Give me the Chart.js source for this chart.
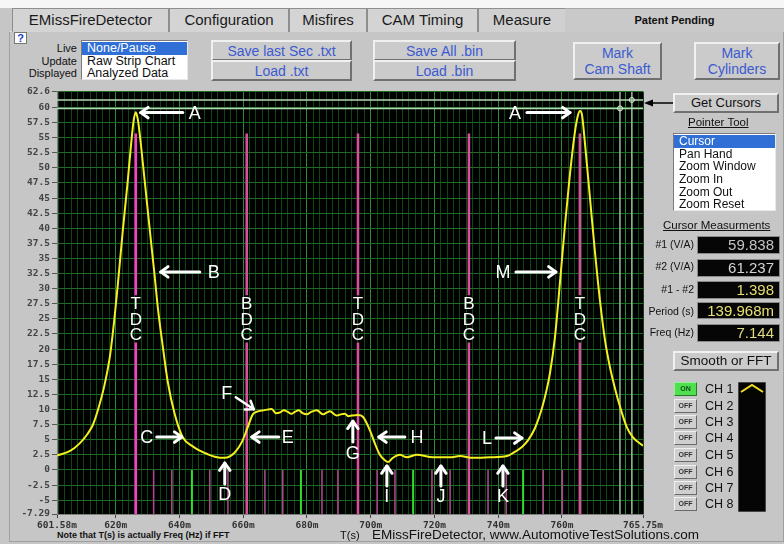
<!DOCTYPE html>
<html><head><meta charset="utf-8">
<script src="https://cdn.jsdelivr.net/npm/chart.js@4.4.1/dist/chart.umd.min.js"></script>
<style>
*{box-sizing:border-box}
html,body{margin:0;padding:0}
body{width:784px;height:544px;background:#c6c6c6;font-family:"Liberation Sans",Arial,sans-serif;position:relative;overflow:hidden}
.a{position:absolute}
#topstrip{left:0;top:0;width:784px;height:8px;background:#f6f6f6}
.tab{position:absolute;top:8px;height:24px;background:#d4d4d4;border:1px solid #8e8e8e;border-bottom:none;font-size:15px;line-height:22px;text-align:center;color:#1a1a1a}
#patent{left:565px;top:8px;width:219px;height:24px;background:#c9c9c9;border-top:1px solid #a8a8a8;font-size:11px;font-weight:bold;line-height:22px;text-align:center;color:#111}
#panel{left:9px;top:31px;width:775px;height:511px;border:1px solid #a0a0a0;border-top-color:#e6e6e6}
.btn{position:absolute;background:#cbcbcb;border:2px solid;border-color:#f0f0f0 #707070 #707070 #f0f0f0;color:#3c5ad0;font-size:14px;text-align:center;display:flex;align-items:center;justify-content:center;line-height:16px}
.list{position:absolute;background:#fff;border:1px solid;border-color:#7a7a7a #e8e8e8 #e8e8e8 #7a7a7a;font-size:12.5px;padding-top:1px}
.list div{height:12.7px;line-height:12.7px;padding-left:5px;color:#111;white-space:nowrap}
.list div.sel{background:#2f6fd6;color:#fff}
.lbl{position:absolute;font-size:11px;text-align:right;color:#111;white-space:nowrap}
.val{position:absolute;left:697px;width:83px;background:#060606;border:1px solid #8a8a8a;font-size:15px;text-align:right;padding-right:5px;color:#d0d0d0;white-space:nowrap}
.ul{position:absolute;font-size:11.5px;text-decoration:underline;color:#111;white-space:nowrap}
.ch{position:absolute;left:674px;width:23px;height:14px;font-size:7px;font-weight:bold;text-align:center;line-height:11px;border:1.5px solid;border-color:#f0f0f0 #6a6a6a #6a6a6a #f0f0f0;background:#cfcfcf;color:#333}
.ch.on{background:#4fe04f;color:#145014;border-color:#9af09a #2a7a2a #2a7a2a #9af09a}
.chl{position:absolute;left:705px;font-size:12.5px;color:#111}
</style></head>
<body>
<div id="topstrip" class="a"></div>
<div id="panel" class="a"></div>
<div class="tab" style="left:12px;width:157px">EMissFireDetector</div>
<div class="tab" style="left:169px;width:120px">Configuration</div>
<div class="tab" style="left:289px;width:78px">Misfires</div>
<div class="tab" style="left:367px;width:111px">CAM Timing</div>
<div class="tab" style="left:478px;width:88px;background:#d0d0d0">Measure</div>
<div id="patent" class="a">Patent Pending</div>

<div class="a" style="left:14px;top:32px;width:13px;height:12px;background:#fff;border:1px solid #777;color:#2040c0;font-weight:bold;font-size:11px;line-height:10px;text-align:center">?</div>
<div class="lbl" style="left:20px;width:57px;top:42px">Live</div>
<div class="lbl" style="left:20px;width:57px;top:55px">Update</div>
<div class="lbl" style="left:20px;width:57px;top:67px">Displayed</div>
<div class="list" style="left:81px;top:40px;width:107px;height:40px">
 <div class="sel">None/Pause</div><div>Raw Strip Chart</div><div>Analyzed Data</div>
</div>
<div class="btn" style="left:211px;top:40px;width:141px;height:21px">Save last Sec .txt</div>
<div class="btn" style="left:211px;top:60px;width:141px;height:21px">Load .txt</div>
<div class="btn" style="left:373px;top:40px;width:143px;height:21px">Save All .bin</div>
<div class="btn" style="left:373px;top:60px;width:143px;height:21px">Load .bin</div>
<div class="btn" style="left:573px;top:42px;width:89px;height:38px">Mark<br>Cam Shaft</div>
<div class="btn" style="left:694px;top:42px;width:86px;height:38px">Mark<br>Cylinders</div>

<canvas id="c" class="a" width="672" height="446" style="left:0;top:84px;width:672px;height:446px"></canvas>

<svg class="a" style="left:640px;top:96px" width="36" height="14">
 <line x1="10" y1="7" x2="33" y2="7" stroke="#000" stroke-width="1.5"/>
 <polygon points="4,7 13,3.5 13,10.5" fill="#000"/>
</svg>
<div class="btn" style="left:673px;top:93px;width:106px;height:20px;color:#111;font-size:13px">Get Cursors</div>
<div class="ul" style="left:688px;top:116px">Pointer Tool</div>
<div class="list" style="left:673px;top:133px;width:103px;height:78px;font-size:12px">
 <div class="sel">Cursor</div><div>Pan Hand</div><div>Zoom Window</div><div>Zoom In</div><div>Zoom Out</div><div>Zoom Reset</div>
</div>
<div class="ul" style="left:663px;top:219px">Cursor Measurments</div>
<div class="lbl" style="left:640px;width:54px;top:238px;font-size:10.5px">#1 (V/A)</div>
<div class="val" style="top:236px;height:18px;line-height:16px;color:#c4c4c4">59.838</div>
<div class="lbl" style="left:640px;width:54px;top:260px;font-size:10.5px">#2 (V/A)</div>
<div class="val" style="top:259px;height:18px;line-height:16px;color:#d4d4d4">61.237</div>
<div class="lbl" style="left:640px;width:54px;top:283px;font-size:10.5px">#1 - #2</div>
<div class="val" style="top:281px;height:18px;line-height:16px;color:#e6de70">1.398</div>
<div class="lbl" style="left:630px;width:64px;top:305px;font-size:10.5px">Period (s)</div>
<div class="val" style="top:302px;height:17px;line-height:15px;color:#e8e070">139.968m</div>
<div class="lbl" style="left:630px;width:64px;top:326px;font-size:10.5px">Freq (Hz)</div>
<div class="val" style="top:324px;height:18px;line-height:16px;color:#e0dc80">7.144</div>
<div class="btn" style="left:673px;top:351px;width:106px;height:20px;color:#111;font-size:13.5px">Smooth or FFT</div>

<div class="ch on" style="top:382px">ON</div><div class="chl" style="top:382px">CH 1</div>
<div class="ch" style="top:399px">OFF</div><div class="chl" style="top:399px">CH 2</div>
<div class="ch" style="top:415px">OFF</div><div class="chl" style="top:415px">CH 3</div>
<div class="ch" style="top:431px">OFF</div><div class="chl" style="top:431px">CH 4</div>
<div class="ch" style="top:448px">OFF</div><div class="chl" style="top:448px">CH 5</div>
<div class="ch" style="top:465px">OFF</div><div class="chl" style="top:465px">CH 6</div>
<div class="ch" style="top:481px">OFF</div><div class="chl" style="top:481px">CH 7</div>
<div class="ch" style="top:497px">OFF</div><div class="chl" style="top:497px">CH 8</div>
<svg class="a" style="left:738px;top:382px" width="28" height="130">
 <rect x="0" y="0" width="28" height="130" fill="#050505" stroke="#888" stroke-width="1"/>
 <polyline points="3,10 14,3 25,10" fill="none" stroke="#f0e020" stroke-width="2"/>
</svg>

<div class="a" style="left:57px;top:530px;font-size:9px;font-weight:bold;color:#111;white-space:nowrap">Note that T(s) is actually Freq (Hz) if FFT</div>
<div class="a" style="left:340px;top:529px;font-size:11px;color:#111">T(s)</div>
<div class="a" style="left:372px;top:527px;font-size:13.5px;color:#111;white-space:nowrap">EMissFireDetector, www.AutomotiveTestSolutions.com</div>

<script>
// ---- data ----
const xTickValues = [601.58, 620, 640, 660, 680, 700, 720, 740, 760, 785.41];
const xTickLabels = ['601.58m','620m','640m','660m','680m','700m','720m','740m','760m','765.75m'];
const yTickValues = [-7.29,-5,-2.5,0,2.5,5,7.5,10,12.5,15,17.5,20,22.5,25,27.5,30,32.5,35,37.5,40,42.5,45,47.5,50,52.5,55,57.5,60,62.6];

const timeMs = [601.58,605.56,608.70,611.21,612.78,614.35,616.55,618.12,619.06,620.63,622.20,623.77,625.02,625.65,626.28,626.91,627.53,629.10,630.67,632.24,633.18,634.75,636.32,638.52,641.03,644.17,646.37,648.88,651.07,654.21,657.35,659.55,661.43,663.00,664.57,666.77,668.96,670.20,671.47,672.70,673.99,675.10,676.18,677.40,678.60,679.95,681.30,683.09,684.97,686.20,687.17,689.37,690.60,691.88,693.00,694.07,695.96,697.53,699.72,701.29,702.86,704.43,705.37,706.94,709.14,711.33,714.48,719.50,724.83,727.97,732.05,737.39,742.72,744.61,747.43,749.32,751.51,753.71,755.28,756.22,757.79,759.36,760.93,762.50,764.07,765.01,765.64,766.26,767.21,768.78,770.35,771.92,773.49,775.05,776.62,778.19,780.39,782.27,785.41];
const signal = [2.4,3.1,4.4,6.0,7.4,9.8,14.2,18.6,22.5,30.5,39.5,47.8,55.0,57.9,59.2,58.1,55.6,47.8,39.8,32.0,27.0,20.5,14.6,9.2,5.4,3.9,3.2,2.6,2.2,2.0,2.9,4.6,7.1,9.2,9.7,9.9,10.1,9.4,9.5,9.9,9.6,9.3,9.6,9.9,9.4,9.2,9.6,9.9,9.2,9.5,9.7,9.0,9.2,9.3,8.9,9.0,9.1,8.8,6.6,4.4,2.5,1.6,1.3,2.0,2.5,2.1,2.5,2.1,2.1,2.3,2.0,2.1,2.3,2.8,3.8,4.9,6.9,10.2,13.5,16.0,22.0,31.0,40.5,49.0,56.0,58.7,59.4,58.8,54.0,45.0,36.0,28.0,21.5,17.0,13.5,10.5,7.0,5.4,4.0];

const deadCenterMs = [626.3, 661.1, 696.0, 730.8, 765.6];
const deadCenterLabels = ['TDC','BDC','TDC','BDC','TDC'];
const cylinderMarkMs = [631.9,637.6,649.5,655.2,666.8,672.4,684.7,689.7,702.0,707.6,719.2,724.9,736.8,742.5,754.1,760.1];
const camMarkMs = [643.9,678.1,713.3,747.8];
const cursorMs = [778.2, 781.9];
const cursorValues = [59.838, 61.237];

const noteLetters = ['A','A','B','M','C','D','E','F','G','H','I','J','K','L'];

// ---- layout / drawing ----
const X_MIN = xTickValues[0], X_MAX = xTickValues[xTickValues.length-1];
const Y_MIN = yTickValues[0], Y_MAX = yTickValues[yTickValues.length-1];

// arrow geometry for each letter (data coords): letter centre, arrow tail, arrow tip
const noteGeom = [
 [[644.80,59.14],[641.03,59.14],[627.85,59.14]],
 [[745.23,59.14],[749.00,59.14],[762.50,59.14]],
 [[650.76,32.78],[646.37,32.78],[634.12,32.78]],
 [[741.47,32.78],[745.55,32.78],[758.10,32.78]],
 [[629.73,5.44],[632.87,5.44],[640.72,5.44]],
 [[654.21,-3.95],[654.21,-2.31],[654.21,1.15]],
 [[673.99,5.44],[671.16,5.44],[662.69,5.44]],
 [[654.84,12.69],[657.66,12.03],[663.31,10.05]],
 [[694.39,2.80],[694.39,4.61],[694.39,8.07]],
 [[714.48,5.44],[710.71,5.44],[702.55,5.44]],
 [[705.06,-4.28],[705.06,-2.64],[705.06,0.66]],
 [[722.01,-4.28],[722.01,-2.64],[722.01,0.66]],
 [[741.47,-4.28],[741.47,-2.64],[741.47,0.66]],
 [[736.45,5.27],[739.27,5.27],[747.43,5.27]]
];

const DC_TOP = 55.7, DC_GAP_TOP = 28.9, DC_GAP_BOTTOM = 21.1;

const segs = (xs, y0, y1) => xs.flatMap(x => [{x, y:y0},{x, y:y1},{x, y:null}]);

const datasets = [];
datasets.push({label:'CH1', data: timeMs.map((t,i)=>({x:t, y:signal[i]})), borderColor:'#f4f020', borderWidth:2,
  pointRadius:0, showLine:true, cubicInterpolationMode:'monotone', order:0});
deadCenterMs.forEach((t,i)=>{
  datasets.push({label:deadCenterLabels[i], data:[{x:t,y:DC_TOP},{x:t,y:DC_GAP_TOP},{x:t,y:null},{x:t,y:DC_GAP_BOTTOM},{x:t,y:Y_MIN}],
    borderColor: i===0 ? '#ff3ccc' : '#d8509e', borderWidth:2.5, pointRadius:0, showLine:true, order:3});
});
datasets.push({label:'cyl', data: segs(cylinderMarkMs, 0, Y_MIN), borderColor:'#a8488a', borderWidth:1.6, pointRadius:0, showLine:true, order:4});
datasets.push({label:'cam', data: segs(camMarkMs, 0, Y_MIN), borderColor:'#2ee02e', borderWidth:2, pointRadius:0, showLine:true, order:4});
cursorValues.forEach(v=>{
  datasets.push({label:'ch', data:[{x:X_MIN,y:v},{x:X_MAX,y:v}], borderColor:'#b4d8b4', borderWidth:1.5, pointRadius:0, showLine:true, order:2});
});
cursorMs.forEach(t=>{
  datasets.push({label:'cv', data:[{x:t,y:Y_MIN},{x:t,y:Y_MAX}], borderColor:'#b4d8b4', borderWidth:1.2, pointRadius:0, showLine:true, order:2});
});
datasets.push({label:'cm', data: cursorMs.map((t,i)=>({x:t, y:cursorValues[i]})), showLine:false, pointRadius:2.5,
  pointStyle:'circle', borderColor:'#dff0df', backgroundColor:'rgba(0,0,0,0)', borderWidth:1, order:1});

const bgPlugin = {id:'bg', beforeDraw(c){const {ctx, chartArea:a}=c; ctx.save(); ctx.fillStyle='#000'; ctx.fillRect(a.left,a.top,a.right-a.left,a.bottom-a.top); ctx.restore();}};

function arrow(ctx,a,b,w){
  ctx.lineWidth=w; ctx.beginPath(); ctx.moveTo(a[0],a[1]); ctx.lineTo(b[0],b[1]); ctx.stroke();
  const ang=Math.atan2(b[1]-a[1],b[0]-a[0]), L=9, s=0.62;
  ctx.beginPath();
  ctx.moveTo(b[0]-L*Math.cos(ang-s), b[1]-L*Math.sin(ang-s));
  ctx.lineTo(b[0],b[1]);
  ctx.lineTo(b[0]-L*Math.cos(ang+s), b[1]-L*Math.sin(ang+s));
  ctx.stroke();
}
const notesPlugin = {id:'notes', afterDatasetsDraw(chart){
  const {ctx, scales:{x,y}} = chart;
  const P = p => [x.getPixelForValue(p[0]), y.getPixelForValue(p[1])];
  ctx.save();
  ctx.fillStyle='#ffffff'; ctx.strokeStyle='#ffffff';
  ctx.textAlign='center'; ctx.textBaseline='middle';
  ctx.font='17px "Liberation Sans", Arial, sans-serif';
  deadCenterMs.forEach((t,i)=>{
    const px = x.getPixelForValue(t);
    deadCenterLabels[i].split('').forEach((ch,k)=>{
      ctx.fillText(ch, px, y.getPixelForValue(27.5 - 2.5*k)+1);
    });
  });
  ctx.font='18px "Liberation Sans", Arial, sans-serif';
  ctx.lineCap='round'; ctx.lineJoin='round';
  noteLetters.forEach((l,i)=>{
    const [c,tail,tip] = noteGeom[i];
    const pc = P(c);
    ctx.fillText(l, pc[0], pc[1]+1);
    arrow(ctx, P(tail), P(tip), l==='F' ? 2.5 : 3);
  });
  ctx.restore();
}};

const isMajor = v => Math.abs(v/20 - Math.round(v/20)) < 1e-6;
const labelIndex = v => xTickValues.findIndex(u => Math.abs(u-v) < 1e-6);

new Chart(document.getElementById('c'), {
  type:'scatter',
  data:{datasets},
  options:{
    responsive:false, animation:false, devicePixelRatio:1,
    layout:{padding:{left:0, top:6, right:29, bottom:0}},
    plugins:{legend:{display:false}, tooltip:{enabled:false}},
    scales:{
      x:{type:'linear', min:X_MIN, max:X_MAX,
        afterBuildTicks(scale){
          const vals=[...xTickValues];
          for(let v=602; v<=784; v+=2){ if(!vals.some(u=>Math.abs(u-v)<0.01)) vals.push(v); }
          vals.sort((a,b)=>a-b);
          scale.ticks = vals.map(v=>({value:v}));
        },
        afterFit(scale){ scale.height = 16; },
        border:{display:true, color:'#808080'},
        grid:{
          color: c => { const v=c.tick ? c.tick.value : 0; return isMajor(v) ? '#2e8a34' : '#0f4514'; },
          lineWidth:1, drawTicks:true, tickLength:4,
          tickColor: c => (c.tick && labelIndex(c.tick.value) >= 0) ? '#404040' : 'rgba(0,0,0,0)'
        },
        ticks:{autoSkip:false, maxRotation:0, minRotation:0, padding:2, color:'#333',
          font:{family:'"DejaVu Sans Mono", monospace', size:9.5, weight:'bold'},
          callback: v => { const i=labelIndex(v); return i>=0 ? xTickLabels[i] : ''; }
        }
      },
      y:{type:'linear', min:Y_MIN, max:Y_MAX,
        afterBuildTicks(scale){ scale.ticks = yTickValues.map(v=>({value:v})); },
        afterFit(scale){ scale.width = 57; },
        border:{display:true, color:'#808080'},
        grid:{color:'#1e6a22', lineWidth:1, drawTicks:true, tickLength:5, tickColor:'#555'},
        ticks:{autoSkip:false, padding:2, color:'#444',
          font:{family:'"DejaVu Sans Mono", monospace', size:9.5, weight:'bold'},
          callback: v => String(v)
        }
      }
    }
  },
  plugins:[bgPlugin, notesPlugin]
});
</script>
</body></html>
